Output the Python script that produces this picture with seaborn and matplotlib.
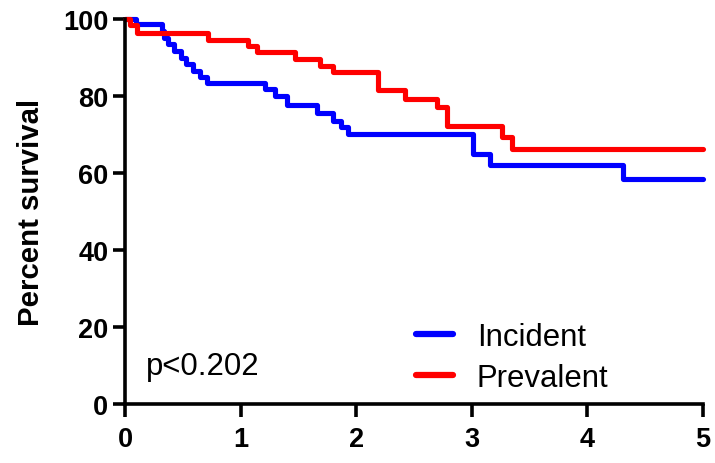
import matplotlib
matplotlib.use("Agg")
import matplotlib.pyplot as plt
import seaborn as sns
import pandas as pd

# Data
times_incident = [0, 0.09, 0.32, 0.34, 0.37, 0.42, 0.48, 0.53, 0.59, 0.65, 0.71,
                  1.21, 1.30, 1.40, 1.66, 1.80, 1.87, 1.93, 3.01, 3.16, 4.31, 5.0]
surv_incident = [100, 98.6, 96.8, 95.1, 93.4, 91.7, 89.9, 88.2, 86.5, 84.8, 83.4,
                 81.8, 80.0, 77.6, 75.5, 73.6, 71.9, 70.1, 64.9, 62.1, 58.4, 58.4]

times_prevalent = [0, 0.04, 0.10, 0.72, 1.06, 1.14, 1.47, 1.69, 1.80, 2.19, 2.42,
                   2.70, 2.79, 3.26, 3.35, 5.0]
surv_prevalent = [100, 98.3, 96.3, 94.6, 92.9, 91.3, 89.6, 87.9, 86.1, 81.6, 79.2,
                  77.1, 72.2, 69.3, 66.2, 66.2]

groups = ["Incident", "Prevalent"]
colors = {"Incident": "#0000FF", "Prevalent": "#FF0000"}
x_ticks = [0, 1, 2, 3, 4, 5]
y_ticks = [0, 20, 40, 60, 80, 100]
p_text = "p<0.202"
y_label = "Percent survival"

df = pd.concat([
    pd.DataFrame({"time": times_incident, "survival": surv_incident, "group": "Incident"}),
    pd.DataFrame({"time": times_prevalent, "survival": surv_prevalent, "group": "Prevalent"}),
], ignore_index=True)

sns.set_style("ticks")
plt.rcParams["font.family"] = ["Liberation Sans", "DejaVu Sans"]
plt.rcParams["text.color"] = "black"
plt.rcParams["axes.labelcolor"] = "black"

fig = plt.figure(figsize=(7.15, 4.64), dpi=100)
ax = fig.add_axes([0.175, 0.127, 0.808, 0.830])

sns.lineplot(data=df, x="time", y="survival", hue="group", hue_order=groups,
             palette=colors, drawstyle="steps-post", estimator=None,
             linewidth=3.7, ax=ax, clip_on=False, legend=True)

ax.set_xlim(0, 5)
ax.set_ylim(0, 100)
ax.set_xticks(x_ticks)
ax.set_yticks(y_ticks)
ax.set_xlabel("")
ax.set_ylabel(y_label, fontsize=21.2, fontweight="bold", labelpad=13, color="black")
for lab in ax.get_xticklabels() + ax.get_yticklabels():
    lab.set_fontweight("bold")
ax.tick_params(axis="both", labelsize=19.5, width=2.6, length=9, color="black",
               labelcolor="black")
ax.tick_params(axis="x", pad=7)
ax.tick_params(axis="y", pad=3)
sns.despine(ax=ax)
for s in ("left", "bottom"):
    ax.spines[s].set_linewidth(2.6)
    ax.spines[s].set_color("black")

ax.text(0.18, 10.0, p_text, fontsize=22.4, va="center", ha="left", color="black")

handles, labels = ax.get_legend_handles_labels()
leg = ax.legend(handles, labels, loc="lower left", bbox_to_anchor=(0.455, -0.043),
                frameon=False, fontsize=22.4, handlelength=1.2, handletextpad=0.75,
                labelspacing=0.35)
for line in leg.get_lines():
    line.set_linewidth(4.5)
for t in leg.get_texts():
    t.set_color("black")

fig.savefig("out.png", dpi=100)
